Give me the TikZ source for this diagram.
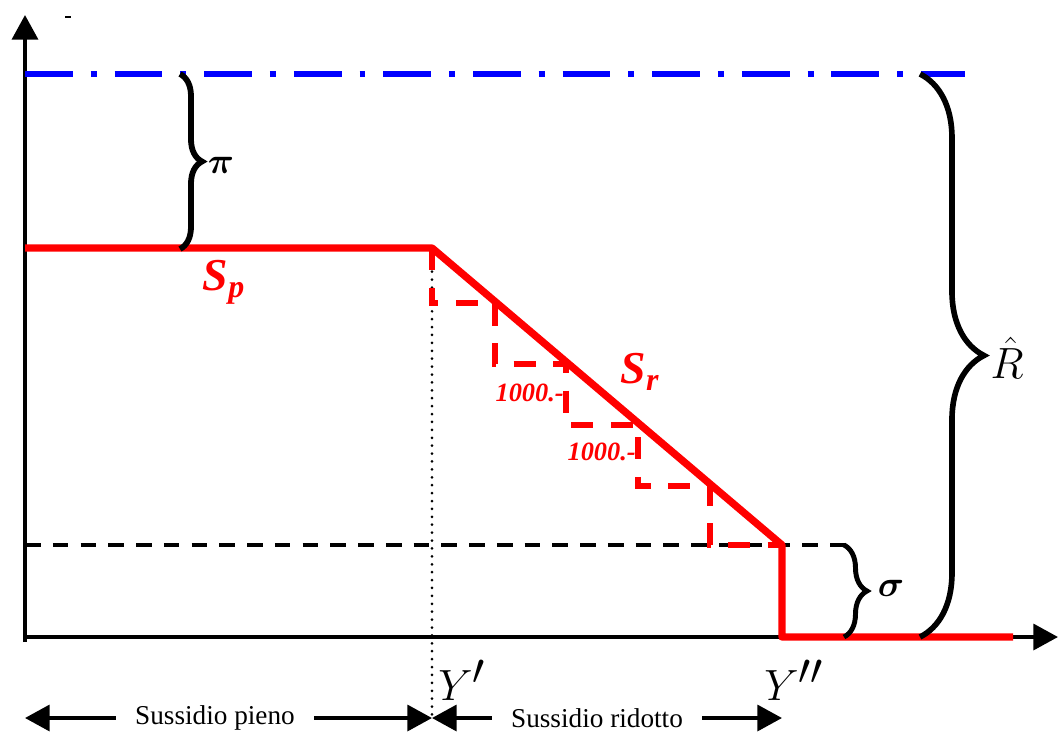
\documentclass[tikz,border=0pt]{standalone}
\usepackage{fontspec}
\usepackage{bm}
\setmainfont{Liberation Serif}
\usetikzlibrary{arrows.meta,decorations.pathreplacing}
\definecolor{sred}{HTML}{FF0000}
\definecolor{sblue}{HTML}{0000FF}
\tikzset{
  axisline/.style={line width=2.2pt},
  redline/.style={sred,line width=4.2pt,line join=round},
  stairline/.style={sred,line width=3.3pt,dash pattern=on 12.5pt off 10pt},
  blueline/.style={sblue,line width=3.4pt,dash pattern=on 27.2pt off 10.2pt on 3.4pt off 10.2pt},
  levelline/.style={line width=2.2pt,dash pattern=on 8.9pt off 6.9pt},
  guideline/.style={line width=1.7pt,line cap=round,dash pattern=on 0pt off 4.5pt},
  bracedeco/.style={decorate,line width=#1},
  sublabel/.style={font=\fontsize{15.5}{17}\selectfont,inner xsep=0.38cm,inner ysep=2pt},
  steplabel/.style={sred,font=\fontsize{15}{16}\selectfont\bfseries\itshape,anchor=east,inner sep=0pt},
  schedlabel/.style={sred,font=\fontsize{26}{28}\selectfont\bfseries\itshape},
}
\begin{document}
\begin{tikzpicture}[x=0.02cm,y=-0.02cm,>={Triangle[length=14pt,width=14.7pt]}]
  \useasboundingbox (0,0) rectangle (1059,735);
  % key points of the schedule
  \coordinate (ytop) at (25,15);
  \coordinate (xend) at (1058,637);
  \coordinate (kink1) at (432,248);
  \coordinate (kink2) at (782,545);
  \coordinate (s1) at (495,303);
  \coordinate (s2) at (566,364);
  \coordinate (s3) at (638,425);
  \coordinate (s4) at (710,486);
  % dotted guide at Y'
  \draw[guideline] (kink1) -- (432,722);
  % axes
  \draw[axisline,->] (25,642) -- (ytop);
  \draw[axisline,->] (25,637) -- (xend);
  \draw[line width=0.8pt] (65,17) -- (71,17);
  % upper level and sigma level
  \draw[blueline] (25,74) -- (965,74);
  \draw[levelline] (25,545) -- (848,545);
  % subsidy: full, then reduced in steps
  \draw[stairline] (kink1) |- (s1) |- (s2) |- (s3) |- (s4) |- (kink2);
  \draw[redline] (25,248) -- (kink1) -- (kink2) -- (782,637) -- (1013,637);
  \node[steplabel] (stepa) at (564,393) {1000.-};
  \node[steplabel] (stepb) at (636,452) {1000.-};
  \node[schedlabel] (sp) at (224,282) {S\textsubscript{p}};
  \node[schedlabel] (sr) at (640,372) {S\textsubscript{r}};
  % braces
  \draw[bracedeco=3.3pt,decoration={brace,amplitude=0.44cm}] (180,74) -- (180,249);
  \node[font=\fontsize{22}{24}\selectfont] (pilab) at (221,165) {$\bm{\pi}$};
  \draw[bracedeco=2.8pt,decoration={brace,amplitude=0.46cm}] (844,545) -- (844,637);
  \node[font=\fontsize{22}{24}\selectfont] (siglab) at (891,588) {$\bm{\sigma}$};
  \draw[bracedeco=3.2pt,decoration={brace,amplitude=1.28cm}] (920,74) -- (920,637);
  \node[font=\fontsize{30}{32}\selectfont] (rlab) at (1007,358) {$\hat{R}$};
  % thresholds
  \node[font=\fontsize{34}{36}\selectfont] (y1) at (462,680) {$Y'$};
  \node[font=\fontsize{34}{36}\selectfont] (y2) at (794,680) {$Y''$};
  % ranges
  \coordinate (lend) at (25,718);
  \coordinate (mend) at (432,718);
  \coordinate (rend) at (782,718);
  \node[sublabel] (pieno) at (215,718) {Sussidio pieno};
  \node[sublabel] (ridotto) at (597,718) {Sussidio ridotto};
  \draw[line width=2.2pt,->] (pieno) -- (lend);
  \draw[line width=2.2pt,->] (pieno) -- (mend);
  \draw[line width=2.2pt,->] (ridotto) -- (mend);
  \draw[line width=2.2pt,->] (ridotto) -- (rend);
\end{tikzpicture}
\end{document}
